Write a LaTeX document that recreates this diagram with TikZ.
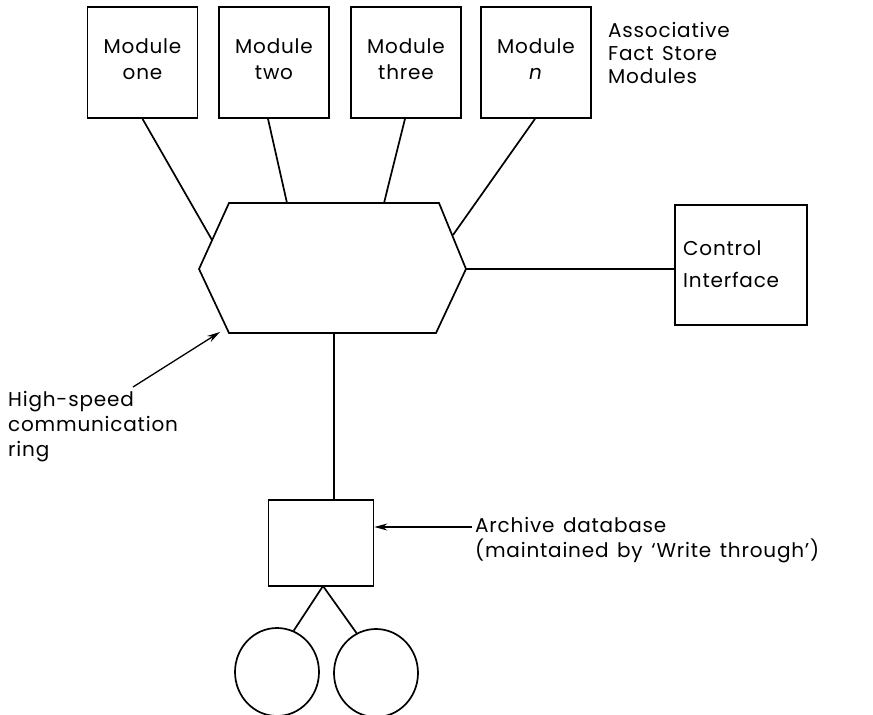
\documentclass[tikz,border=0pt]{standalone}
\usepackage{fontspec}
\setmainfont{Poppins}[LetterSpace=4,WordSpace=1.4]
\usetikzlibrary{arrows.meta,calc,shapes.geometric}
\begin{document}
\begin{tikzpicture}[x=1pt,y=-1pt,
  ln/.style={line width=1.7pt},
  box/.style={draw,line width=1.7pt,rectangle,inner sep=0pt},
  modbox/.style={box,minimum width=110pt,minimum height=111pt},
  modtext/.style={inner sep=0pt,align=center,font=\fontsize{20}{26}\selectfont},
  lbl/.style={inner sep=0pt,anchor=west,align=left},
  arr/.style={line width=1.3pt,-{Stealth[length=13pt,width=7pt]}},
  disk/.style={draw,line width=1.7pt,ellipse,minimum width=84pt,minimum height=88pt,inner sep=0pt}
]
\useasboundingbox (0,0) rectangle (873,715);
% modules
\node[modbox] (m1) at (142.5,62.5) {};
\node[modbox] (m2) at (274,62.5) {};
\node[modbox] (m3) at (406,62.5) {};
\node[modbox] (m4) at (536,62.5) {};
\node[modtext] (m1t) at ($(m1.center)+(0,-3)$) {Module\\one};
\node[modtext] (m2t) at ($(m2.center)+(0,-3)$) {Module\\two};
\node[modtext] (m3t) at ($(m3.center)+(0,-3)$) {Module\\three};
\node[modtext] (m4t) at ($(m4.center)+(0,-3)$) {Module\\\textit{n}};
\node[lbl,font=\fontsize{20}{23}\selectfont] (afs) at (608,53) {Associative\\Fact Store\\Modules};
% hexagon ring
\coordinate (tl) at (229,203);
\coordinate (tr) at (439,203);
\coordinate (r) at (466,269);
\coordinate (br) at (436,333);
\coordinate (bl) at (229,333);
\coordinate (l) at (199,269);
\draw[ln,line join=miter] (tl) -- (tr) -- (r) -- (br) -- (bl) -- (l) -- cycle;
\coordinate (e1) at (212,240);
\coordinate (e2) at (287,203);
\coordinate (e3) at (384,203);
\coordinate (e4) at (453,235);
\coordinate (eb) at (334,333);
\draw[ln] (m1.south) -- (e1);
\draw[ln] ($(m2.south)+(-6,0)$) -- (e2);
\draw[ln] ($(m3.south)+(-1,0)$) -- (e3);
\draw[ln] ($(m4.south)+(-1,0)$) -- (e4);
% control interface
\node[box,minimum width=132pt,minimum height=120pt] (ci) at (741,265) {};
\node[lbl,font=\fontsize{20}{32}\selectfont] (citext) at (683,264) {Control\\Interface};
\draw[ln] (r) -- (ci.west |- r);
% high-speed label
\node[lbl,font=\fontsize{20}{25}\selectfont] (hs) at (8,427) {High-speed\\communication\\ring};
\coordinate (hsa) at (133,387);
\coordinate (hsb) at (220,332);
\draw[arr] (hsa) -- (hsb);
% archive
\node[box,minimum width=105pt,minimum height=86pt] (arch) at (321,543) {};
\draw[ln] (eb) -- (eb |- arch.north);
\node[lbl,font=\fontsize{20}{25}\selectfont] (archtext) at (475,540) {Archive database\\(maintained by `Write through')};
\coordinate (aa) at (472,527);
\draw[arr] (aa) -- (arch.east |- aa);
% disks
\node[disk] (d1) at (277,672) {};
\node[disk] (d2) at (376,673) {};
\coordinate (ab) at (323,586);
\draw[ln] (ab) -- (d1.68);
\draw[ln] (ab) -- (d2.116);
\end{tikzpicture}
\end{document}
